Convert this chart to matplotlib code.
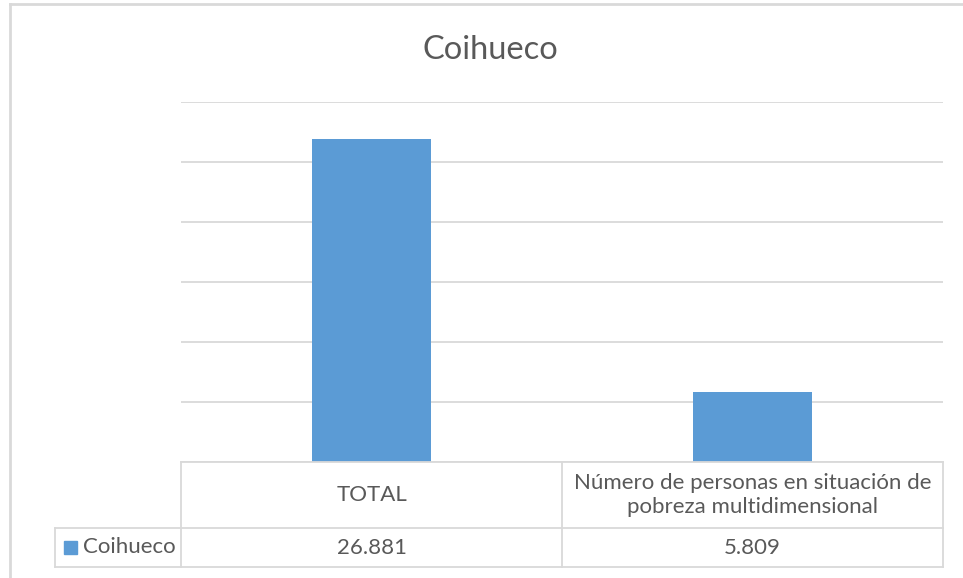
import matplotlib
matplotlib.use("Agg")
import matplotlib.pyplot as plt
from matplotlib.lines import Line2D
from matplotlib.patches import Rectangle
from matplotlib.transforms import blended_transform_factory

# data
title = "Coihueco"
series_name = "Coihueco"
categories = ["TOTAL", "Número de personas en situación de\npobreza multidimensional"]
values = [26881, 5809]
value_labels = ["26.881", "5.809"]

BAR = "#5b9bd5"
GRID = "#d9d9d9"
TEXT = "#595959"
FONT = ["Lato", "DejaVu Sans"]

W, H = 963, 578
fig = plt.figure(figsize=(W / 100, H / 100), dpi=100)
plt.rcParams["font.family"] = FONT

# plot area in pixels: x 181..943, y 102..462
ax = fig.add_axes([181 / W, 1 - 462 / H, 762 / W, 360 / H])
xs = list(range(len(categories)))
ax.bar(xs, values, width=0.31, color=BAR, zorder=2)
ax.set_xlim(-0.5, len(categories) - 0.5)
ax.set_ylim(0, 30000)
ax.set_yticks(range(0, 30001, 5000))
ax.yaxis.grid(True, color=GRID, lw=1.3)
ax.set_axisbelow(True)
ax.tick_params(left=False, bottom=False, labelleft=False, labelbottom=False)
for s in ax.spines.values():
    s.set_visible(False)

# data table under the plot
tr = blended_transform_factory(ax.transData, ax.transAxes)
hdr_bot = -66 / 360
row_bot = -105 / 360
left_x = -0.5 - 126 / 381
n = len(categories)

def hline(x0, x1, y):
    ax.add_line(Line2D([x0, x1], [y, y], transform=tr, color=GRID, lw=1.3, clip_on=False))

def vline(x, y0, y1):
    ax.add_line(Line2D([x, x], [y0, y1], transform=tr, color=GRID, lw=1.3, clip_on=False))

hline(-0.5, n - 0.5, 0)
hline(left_x, n - 0.5, hdr_bot)
hline(left_x, n - 0.5, row_bot)
for i in range(n + 1):
    vline(i - 0.5, 0, row_bot)
vline(left_x, hdr_bot, row_bot)

for i, (cat, lab) in enumerate(zip(categories, value_labels)):
    ax.text(i, hdr_bot / 2, cat, transform=tr, ha="center", va="center",
            fontsize=16, color=TEXT, linespacing=1.2)
    ax.text(i, (hdr_bot + row_bot) / 2, lab, transform=tr, ha="center", va="center",
            fontsize=16, color=TEXT)

# legend key in the table
fig.patches.append(Rectangle((64 / W, 1 - 554 / H), 13 / W, 13 / H,
                             transform=fig.transFigure, color=BAR))
fig.text(83 / W, 1 - 547 / H, series_name, ha="left", va="center",
         fontsize=16, color=TEXT)

# title
fig.text(490 / W, 1 - 50 / H, title, ha="center", va="center", fontsize=23.5, color=TEXT)

# chart border (left and top edges visible)
fig.add_artist(Line2D([10 / W, 10 / W], [0, 1 - 4 / H], transform=fig.transFigure,
                      color=GRID, lw=2))
fig.add_artist(Line2D([10 / W, 1], [1 - 4 / H, 1 - 4 / H], transform=fig.transFigure,
                      color=GRID, lw=2))

fig.savefig("out.png", dpi=100)
